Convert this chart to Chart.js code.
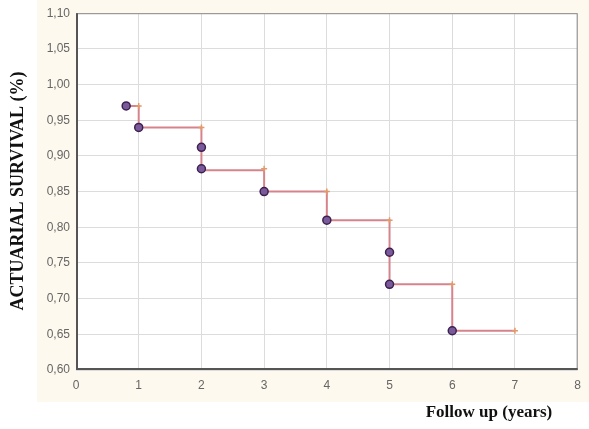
<!DOCTYPE html>
<html lang="en">
<head>
    <meta charset="UTF-8">
    <title>Actuarial survival</title>
    <script src="https://cdn.jsdelivr.net/npm/chart.js@4.4.0/dist/chart.umd.min.js"></script>
    <style>
        html, body { margin: 0; padding: 0; background: #fff; }
        #wrap { width: 589px; height: 429px; position: relative; }
    </style>
</head>
<body>
    <div id="wrap"><canvas id="myChart" width="589" height="429"></canvas></div>
    <script>
        // survival curve (step) - time in years, survival fraction
        var stepTimes = [0.8, 1, 2, 3, 4, 5, 6, 7];
        var stepSurvival = [0.97, 0.94, 0.88, 0.85, 0.81, 0.72, 0.655, 0.655];

        // events (circles)
        var eventTimes = [0.8, 1, 2, 2, 3, 4, 5, 5, 6];
        var eventSurvival = [0.97, 0.94, 0.912, 0.882, 0.85, 0.81, 0.765, 0.72, 0.655];

        // censored marks (+)
        var censorTimes = [1, 2, 3, 4, 5, 6, 7];
        var censorSurvival = [0.97, 0.94, 0.882, 0.85, 0.81, 0.72, 0.655];

        var xTicks = [0, 1, 2, 3, 4, 5, 6, 7, 8];
        var yTicks = [0.60, 0.65, 0.70, 0.75, 0.80, 0.85, 0.90, 0.95, 1.00, 1.05, 1.10];

        function pts(xs, ys) {
            return xs.map(function (x, i) { return { x: x, y: ys[i] }; });
        }

        var decorPlugin = {
            id: 'decor',
            beforeDraw: function (chart) {
                var c = chart.ctx;
                c.save();
                c.fillStyle = '#fff';
                c.fillRect(0, 0, chart.width, chart.height);
                c.fillStyle = '#fdf9ee';
                c.fillRect(37, 0, chart.width - 37, 402);
                var a = chart.chartArea;
                c.fillStyle = '#fff';
                c.fillRect(a.left, a.top, a.right - a.left, a.bottom - a.top);
                c.restore();
            },
            afterDraw: function (chart) {
                var c = chart.ctx;
                var a = chart.chartArea;
                c.save();
                // frame
                c.strokeStyle = '#8a8a8a';
                c.lineWidth = 1;
                c.strokeRect(a.left + 0.5, a.top + 0.5, a.right - a.left - 1, a.bottom - a.top - 1);
                c.strokeStyle = '#555';
                c.lineWidth = 2;
                c.beginPath();
                c.moveTo(a.left + 1, a.top);
                c.lineTo(a.left + 1, a.bottom - 1);
                c.lineTo(a.right, a.bottom - 1);
                c.stroke();
                // titles
                c.fillStyle = '#111';
                c.font = 'bold 17px "Liberation Serif", "Times New Roman", serif';
                c.textAlign = 'center';
                c.textBaseline = 'middle';
                c.fillText('Follow up (years)', 489, 413);
                c.font = 'bold 18px "Liberation Serif", "Times New Roman", serif';
                c.translate(18, 191);
                c.rotate(-Math.PI / 2);
                c.fillText('ACTUARIAL SURVIVAL (%)', 0, 0);
                c.restore();
            }
        };

        var ctx = document.getElementById('myChart').getContext('2d');
        var chart = new Chart(ctx, {
            type: 'scatter',
            data: {
                datasets: [
                    {
                        label: 'censored',
                        data: pts(censorTimes, censorSurvival),
                        showLine: false,
                        pointStyle: 'cross',
                        pointRadius: 3,
                        borderColor: '#e39a6a',
                        borderWidth: 1.5,
                        order: 1
                    },
                    {
                        label: 'events',
                        data: pts(eventTimes, eventSurvival),
                        showLine: false,
                        pointStyle: 'circle',
                        pointRadius: 4,
                        backgroundColor: '#7a5a9a',
                        borderColor: '#3d2150',
                        borderWidth: 1.5,
                        order: 0
                    },
                    {
                        label: 'survival',
                        data: pts(stepTimes, stepSurvival),
                        showLine: true,
                        stepped: 'before',
                        pointRadius: 0,
                        borderColor: '#d6848c',
                        borderWidth: 2,
                        order: 2
                    }
                ]
            },
            options: {
                responsive: false,
                animation: false,
                layout: { padding: { left: 0, top: 11, right: 2, bottom: 0 } },
                plugins: {
                    legend: { display: false },
                    tooltip: { enabled: false }
                },
                scales: {
                    x: {
                        type: 'linear',
                        min: 0,
                        max: 8,
                        afterBuildTicks: function (s) { s.ticks = xTicks.map(function (v) { return { value: v }; }); },
                        afterFit: function (s) { s.height = 59; },
                        border: { display: false },
                        grid: { color: '#dcdcdc', lineWidth: 1, drawTicks: false },
                        ticks: {
                            padding: 8,
                            color: '#666',
                            font: { family: 'Arial, "Liberation Sans", sans-serif', size: 12 },
                            callback: function (v) { return v; }
                        }
                    },
                    y: {
                        type: 'linear',
                        min: 0.6,
                        max: 1.1,
                        afterBuildTicks: function (s) { s.ticks = yTicks.map(function (v) { return { value: v }; }); },
                        afterFit: function (s) { s.width = 76; },
                        border: { display: false },
                        grid: { color: '#dcdcdc', lineWidth: 1, drawTicks: false },
                        ticks: {
                            padding: 6,
                            color: '#666',
                            font: { family: 'Arial, "Liberation Sans", sans-serif', size: 12 },
                            callback: function (v) { return v.toFixed(2).replace('.', ','); }
                        }
                    }
                }
            },
            plugins: [decorPlugin]
        });
    </script>
</body>
</html>
